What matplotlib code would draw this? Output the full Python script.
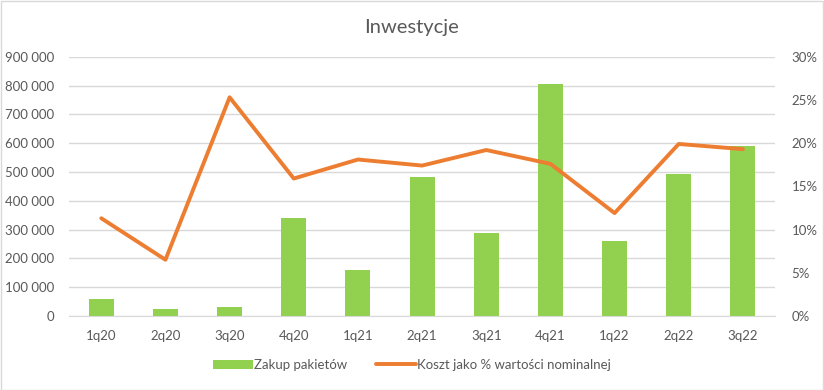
import matplotlib.pyplot as plt
from matplotlib.ticker import FuncFormatter, MultipleLocator

plt.rcParams["font.family"] = ["Lato", "DejaVu Sans"]

quarters = ["1q20", "2q20", "3q20", "4q20", "1q21", "2q21", "3q21", "4q21", "1q22", "2q22", "3q22"]
zakup = [58000, 23000, 32000, 341000, 159000, 481000, 287000, 804000, 261000, 494000, 591000]
koszt = [0.113, 0.065, 0.253, 0.159, 0.181, 0.174, 0.192, 0.176, 0.119, 0.199, 0.193]

GREEN = "#92D050"
ORANGE = "#ED7D31"
GRID = "#D9D9D9"
TEXT = "#595959"

fig = plt.figure(figsize=(8.24, 3.9), dpi=100)
ax = fig.add_axes([0.084, 0.19, 0.8565, 0.6646])
ax2 = ax.twinx()

x = range(len(quarters))
ax.bar(x, zakup, width=0.39, color=GREEN, zorder=2, label="Zakup pakietów")
ax2.plot(x, koszt, color=ORANGE, linewidth=2.8, solid_capstyle="round",
         label="Koszt jako % wartości nominalnej")

ax.set_xlim(-0.5, len(quarters) - 0.5)
ax.set_ylim(0, 900000)
ax.yaxis.set_major_locator(MultipleLocator(100000))
ax.yaxis.set_major_formatter(FuncFormatter(lambda v, _: f"{int(v):,}".replace(",", " ")))
ax2.set_ylim(0, 0.30)
ax2.yaxis.set_major_locator(MultipleLocator(0.05))
ax2.yaxis.set_major_formatter(FuncFormatter(lambda v, _: f"{v * 100:.0f}%"))

ax.set_xticks(list(x))
ax.set_xticklabels(quarters)
ax.grid(axis="y", color=GRID, linewidth=1, zorder=0)
ax.set_axisbelow(True)

for a in (ax, ax2):
  for s in a.spines.values():
    s.set_visible(False)
  a.tick_params(colors=TEXT, labelsize=9.5, length=0)
ax.spines["bottom"].set_visible(True)
ax.spines["bottom"].set_color(GRID)
ax.tick_params(axis="x", pad=10)
ax.tick_params(axis="y", pad=11)
ax2.tick_params(axis="y", pad=12)

fig.text(0.5, 0.93, "Inwestycje", ha="center", va="center", fontsize=14.5, color=TEXT)

h1, l1 = ax.get_legend_handles_labels()
h2, l2 = ax2.get_legend_handles_labels()
fig.legend(h1 + h2, l1 + l2, loc="center", bbox_to_anchor=(0.5, 0.064), ncol=2,
           frameon=False, fontsize=9.5, labelcolor=TEXT, handlelength=3.0,
           handletextpad=0.1, columnspacing=2.2)

border = plt.Rectangle((0.001, 0.001), 0.998, 0.997, transform=fig.transFigure,
                       fill=False, edgecolor=GRID, linewidth=1)
fig.patches.append(border)

fig.savefig("out.png", dpi=100)
